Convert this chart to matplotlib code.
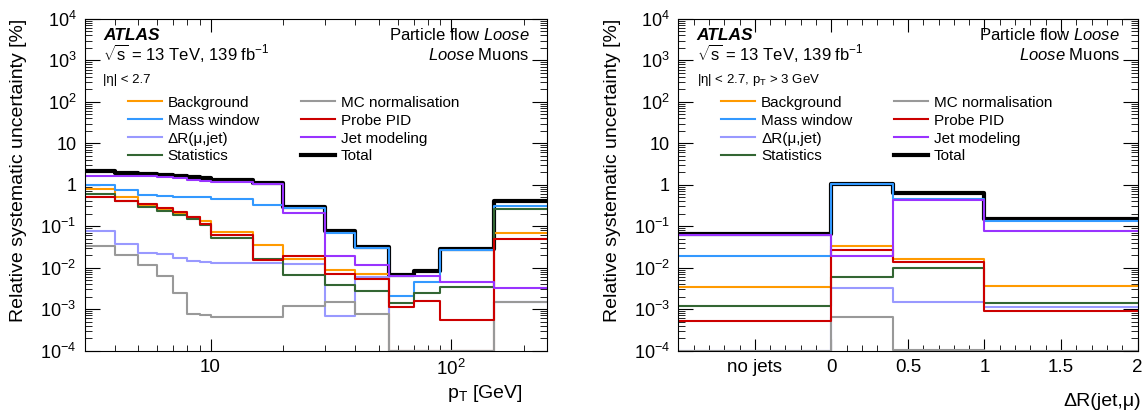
import numpy as np
import matplotlib
matplotlib.use('Agg')
import matplotlib.pyplot as plt
from matplotlib.lines import Line2D
from matplotlib.ticker import FixedLocator, FuncFormatter, LogLocator, NullFormatter, MultipleLocator

plt.rcParams['font.family'] = 'Liberation Sans'
plt.rcParams['mathtext.fontset'] = 'custom'
plt.rcParams['mathtext.rm'] = 'Liberation Sans'
plt.rcParams['mathtext.it'] = 'Liberation Sans:italic'
plt.rcParams['mathtext.bf'] = 'Liberation Sans:bold'

# ---- data: left panel, binned in muon pT [GeV] ----
pt_edges = [3, 4, 5, 6, 7, 8, 9, 10, 15, 20, 30, 40, 55, 70, 90, 150, 250]
background = [0.78, 0.52, 0.314, 0.266, 0.212, 0.170, 0.131, 0.072, 0.036, 0.0161, 0.0087, 0.0072, 0, 0, 0, 0.067]
mass_window = [0.96, 0.73, 0.58, 0.53, 0.51, 0.51, 0.51, 0.456, 0.33, 0.28, 0.069, 0.030, 0.0021, 0.0046, 0.027, 0.31]
delta_r = [0.077, 0.0367, 0.023, 0.021, 0.0167, 0.0142, 0.0134, 0.0129, 0.0129, 0.0122, 0.00067, 0.0061, 0, 0, 0, 0.00145]
statistics = [0.59, 0.415, 0.297, 0.229, 0.190, 0.152, 0.106, 0.052, 0.0164, 0.0067, 0.0038, 0.0027, 0.0014, 0.0024, 0.0035, 0.256]
mc_norm = [0.0334, 0.0202, 0.0113, 0.0062, 0.0024, 0.00075, 0.00071, 0.00066, 0.00066, 0.00118, 0.0015, 0.00074, 0, 0, 0, 0.00145]
probe_pid = [0.50, 0.40, 0.339, 0.281, 0.224, 0.163, 0.115, 0.061, 0.0155, 0.0187, 0.0071, 0.0052, 0.00114, 0.00159, 0.00054, 0.048]
jet_modeling = [1.65, 1.65, 1.62, 1.54, 1.43, 1.32, 1.25, 1.18, 1.06, 0.205, 0.0194, 0.0115, 0.0063, 0.0063, 0.0044, 0.0032]
total = [2.19, 1.92, 1.78, 1.72, 1.62, 1.54, 1.43, 1.30, 1.12, 0.292, 0.076, 0.032, 0.0067, 0.0083, 0.028, 0.41]

# ---- data: right panel, binned in dR(jet, mu); first bin = no jets ----
dr_edges = [-1, 0, 0.4, 1, 2]
background_dr = [0.00336, 0.034, 0.0158, 0.0037]
mass_window_dr = [0.0191, 1.02, 0.465, 0.131]
delta_r_dr = [0, 0.0033, 0.0015, 0.00114]
statistics_dr = [0.00116, 0.0058, 0.0099, 0.00137]
mc_norm_dr = [0, 0.00065, 0.000105, 0]
probe_pid_dr = [0.00051, 0.0267, 0.0139, 0.00089]
jet_modeling_dr = [0.060, 0.0187, 0.43, 0.077]
total_dr = [0.065, 1.05, 0.63, 0.149]

labels = ['Background', 'Mass window', 'ΔR(μ,jet)', 'Statistics',
          'MC normalisation', 'Probe PID', 'Jet modeling', 'Total']
colors = ['#ff9a00', '#3399ff', '#9999ff', '#336633',
          '#999999', '#cc0000', '#9933ff', 'black']
widths = [1.5] * 7 + [3.0]

left_series = [background, mass_window, delta_r, statistics, mc_norm, probe_pid, jet_modeling, total]
right_series = [background_dr, mass_window_dr, delta_r_dr, statistics_dr, mc_norm_dr, probe_pid_dr, jet_modeling_dr, total_dr]


def log_label(v, pos):
    n = int(round(np.log10(v)))
    if n == 0:
        return '1'
    if n == 1:
        return '10'
    return '$10^{%d}$' % n


def draw_hists(ax, edges, series):
    # total first so components sit on top of it
    order = [7, 0, 1, 2, 3, 4, 5, 6]
    for i in order:
        v = np.maximum(np.array(series[i], dtype=float), 1e-4)
        ax.step(edges, np.append(v, v[-1]), where='post', color=colors[i], lw=widths[i])


def style(ax, extra):
    ax.set_yscale('log')
    ax.set_ylim(1e-4, 1e4)
    ax.yaxis.set_major_locator(LogLocator(base=10, numticks=20))
    ax.yaxis.set_minor_locator(LogLocator(base=10, subs=np.arange(2, 10), numticks=20))
    ax.yaxis.set_major_formatter(FuncFormatter(log_label))
    ax.yaxis.set_minor_formatter(NullFormatter())
    ax.tick_params(which='both', direction='in', top=True, right=True)
    ax.tick_params(axis='y', which='major', length=11, labelsize=13, pad=6)
    ax.tick_params(axis='y', which='minor', length=5)
    ax.tick_params(axis='x', which='major', length=9, labelsize=13.5, pad=6)
    ax.tick_params(axis='x', which='minor', length=4.5)

    ax.set_ylabel('Relative systematic uncertainty [%]', fontsize=14, loc='top')
    ax.yaxis.set_label_coords(-0.125, 1.0)

    ax.text(0.040, 0.937, 'ATLAS', transform=ax.transAxes, fontsize=12.5,
            fontweight='bold', fontstyle='italic', va='baseline')
    ax.text(0.040, 0.876, r'$\sqrt{\rm s}$ = 13 TeV, 139 fb$^{-1}$', transform=ax.transAxes,
            fontsize=12, va='baseline')
    ax.text(0.040, 0.807, extra, transform=ax.transAxes, fontsize=9.5, va='baseline')
    ax.text(0.962, 0.937, r'Particle flow $\mathit{Loose}$', transform=ax.transAxes,
            fontsize=12, ha='right', va='baseline')
    ax.text(0.962, 0.876, r'$\mathit{Loose}$ Muons', transform=ax.transAxes,
            fontsize=12, ha='right', va='baseline')

    handles = [Line2D([], [], color=c, lw=w) for c, w in zip(colors, widths)]
    ax.legend(handles, labels, ncol=2, loc='upper left', bbox_to_anchor=(0.094, 0.769),
              frameon=False, fontsize=11, handlelength=2.2, handletextpad=0.39,
              columnspacing=2.75, labelspacing=0.26, borderpad=0, borderaxespad=0)


fig = plt.figure(figsize=(11.46, 4.11), dpi=100)
ax1 = fig.add_axes([0.0739, 0.1472, 0.4034, 0.8066])
ax2 = fig.add_axes([0.5919, 0.1472, 0.4007, 0.8066])

# left: pT
draw_hists(ax1, pt_edges, left_series)
ax1.set_xscale('log')
ax1.set_xlim(3, 250)
ax1.xaxis.set_major_locator(FixedLocator([10, 100]))
ax1.xaxis.set_major_formatter(FuncFormatter(log_label))
ax1.xaxis.set_minor_locator(FixedLocator([3, 4, 5, 6, 7, 8, 9, 20, 30, 40, 50, 60, 70, 80, 90, 200]))
ax1.xaxis.set_minor_formatter(NullFormatter())
style(ax1, '|η| < 2.7')
ax1.set_xlabel(r'p$_{\rm T}$ [GeV]', fontsize=14, loc='right')
ax1.xaxis.set_label_coords(0.948, -0.098)

# right: dR(jet, mu)
draw_hists(ax2, dr_edges, right_series)
ax2.set_xlim(-1, 2)
style(ax2, r'|η| < 2.7, p$_{\rm T}$ > 3 GeV')
ax2.set_xticks([-0.5, 0, 0.5, 1, 1.5, 2])
ax2.set_xticklabels(['no jets', '0', '0.5', '1', '1.5', '2'])
ax2.xaxis.set_minor_locator(MultipleLocator(0.1))
ax2.set_xlabel('ΔR(jet,μ)', fontsize=14, loc='right')
ax2.xaxis.set_label_coords(1.008, -0.128)

fig.savefig('out.png', dpi=100)
